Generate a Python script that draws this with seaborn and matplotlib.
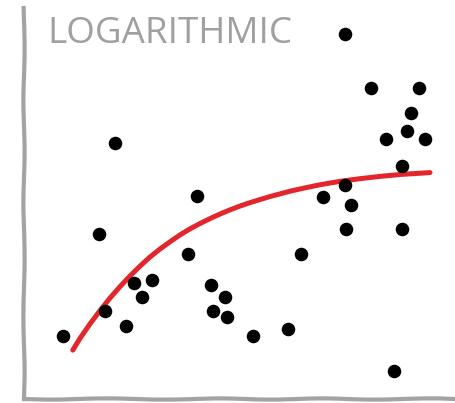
"""xkcd-style scatter with a logarithmic trend curve."""

import pandas as pd
import matplotlib
matplotlib.use("Agg")
import matplotlib.pyplot as plt
import seaborn as sns

# scatter points
x_vals = [1.03, 1.93, 2.33, 2.08, 2.60, 2.80, 3.00, 3.25, 4.15, 4.38,
          4.73, 5.08, 4.78, 5.13, 5.78, 6.65, 6.98, 7.53, 8.08, 8.23,
          8.10, 8.08, 8.73, 9.10, 9.63, 9.73, 9.93, 10.08, 9.50, 9.50, 9.30]
y_vals = [1.63, 4.32, 6.71, 2.29, 1.89, 3.03, 2.66, 3.11, 3.79, 5.32,
          2.97, 2.66, 2.29, 2.13, 1.63, 1.82, 3.79, 5.29, 5.61, 5.08,
          4.45, 9.58, 8.16, 6.82, 7.03, 7.50, 8.16, 6.82, 6.11, 4.45, 0.71]

# the red trend curve at points along its length
curve_x = [1.27, 1.45, 1.70, 1.95, 2.20, 2.45, 2.70, 2.95, 3.20, 3.45,
           3.70, 3.95, 4.20, 4.45, 4.70, 4.95, 5.20, 5.45, 5.70, 5.95,
           6.20, 6.45, 6.70, 6.95, 7.45, 7.95, 8.45, 8.95, 9.45, 10.20]
curve_y = [1.26, 1.57, 1.95, 2.30, 2.63, 2.93, 3.21, 3.47, 3.71, 3.92,
           4.11, 4.29, 4.45, 4.59, 4.72, 4.84, 4.95, 5.05, 5.14, 5.22,
           5.30, 5.37, 5.44, 5.50, 5.61, 5.70, 5.77, 5.83, 5.88, 5.93]

title = "LOGARITHMIC"

points = pd.DataFrame({"x": x_vals, "y": y_vals})
curve = pd.DataFrame({"x": curve_x, "y": curve_y})

sns.set_theme(style="white")
plt.xkcd(scale=0.6, length=120, randomness=2)
plt.rcParams['font.family'] = ['Open Sans', 'DejaVu Sans']
plt.rcParams['path.effects'] = []

fig = plt.figure(figsize=(4.56, 4.03), dpi=100)
ax = fig.add_axes([24 / 456, 4 / 403, 432 / 456, 391 / 403])

sns.lineplot(data=curve, x="x", y="y", ax=ax, color="#e3262b",
             linewidth=3.6, sort=False, zorder=2)
# keep the trend curve smooth, only the frame gets the hand-drawn wobble
for line in ax.lines:
    line.set_sketch_params(None)
    line.set_solid_capstyle("round")
    line.set_solid_joinstyle("round")

sns.scatterplot(data=points, x="x", y="y", ax=ax, s=95, color="black",
                linewidth=0, alpha=1, zorder=3)

ax.set_xlim(0.05, 10.85)
ax.set_ylim(-0.026, 10.26)
ax.set_xticks([])
ax.set_yticks([])
ax.set_xlabel("")
ax.set_ylabel("")
for side in ["top", "right"]:
    ax.spines[side].set_visible(False)
for side in ["left", "bottom"]:
    ax.spines[side].set_color("#a3a3a3")
    ax.spines[side].set_linewidth(3.0)

ax.text(0.054, 0.98, title, transform=ax.transAxes, ha="left", va="top",
        fontsize=26.5, color="#a0a0a0")

fig.savefig("out.png", dpi=100)
